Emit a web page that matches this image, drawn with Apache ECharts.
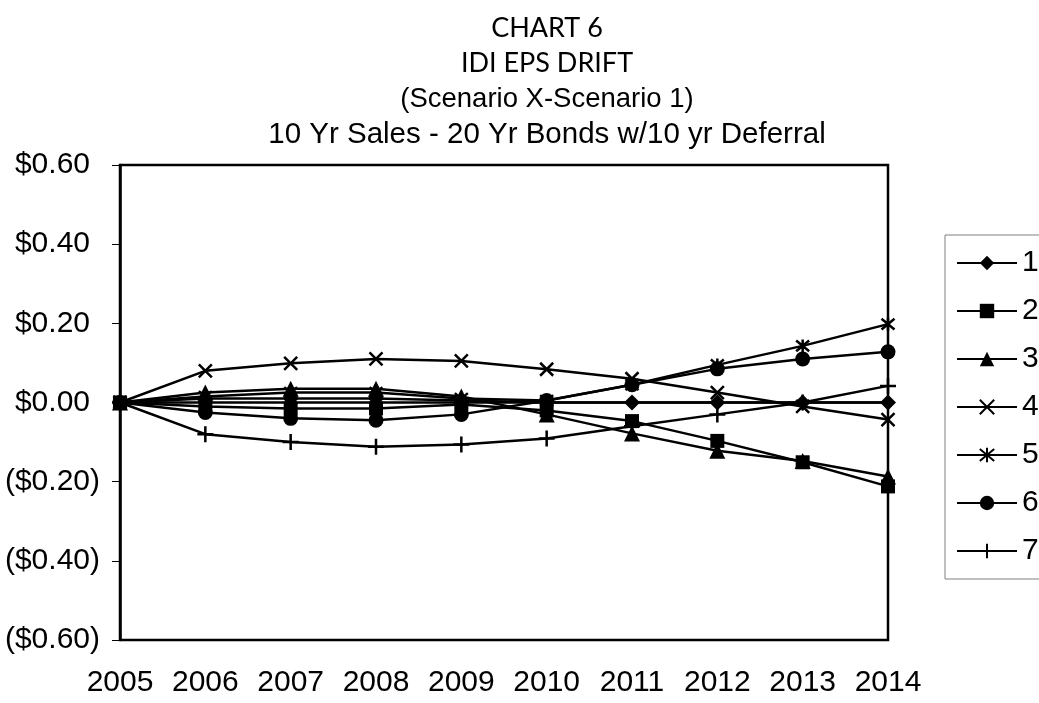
<!DOCTYPE html>
<html>
<head>
<meta charset="utf-8">
<script src="https://cdn.jsdelivr.net/npm/echarts@6/dist/echarts.min.js"></script>
<style>
  html, body { margin: 0; padding: 0; background: #fff; }
  #chart { width: 1039px; height: 703px; }
</style>
</head>
<body>
<div id="chart"></div>
<script>
const YEARS = ['2005', '2006', '2007', '2008', '2009', '2010', '2011', '2012', '2013', '2014']

// EPS drift per scenario (Scenario X - Scenario 1)
const S1 = [0, 0.01, 0.01, 0.01, 0.005, 0, 0, 0, 0, 0]
const S2 = [0, -0.01, -0.015, -0.015, -0.005, -0.02, -0.047, -0.097, -0.151, -0.212]
const S3 = [0, 0.025, 0.035, 0.035, 0.015, -0.03, -0.078, -0.122, -0.148, -0.187]
const S4 = [0, 0.08, 0.099, 0.11, 0.105, 0.084, 0.06, 0.025, -0.01, -0.043]
const S5 = [0, 0.015, 0.025, 0.025, 0.01, 0.005, 0.045, 0.095, 0.143, 0.198]
const S6 = [0, -0.025, -0.04, -0.045, -0.03, 0.005, 0.045, 0.085, 0.11, 0.128]
const S7 = [0, -0.08, -0.1, -0.112, -0.106, -0.091, -0.06, -0.03, 0, 0.042]

const NAMES = ['1', '2', '3', '4', '5', '6', '7']
const TITLE_LINES = ['CHART 6', 'IDI EPS DRIFT', '(Scenario X-Scenario 1)', '10 Yr Sales - 20 Yr Bonds w/10 yr Deferral']

const CROSS = 'path://M0,0L10,10M10,0L0,10'
const STAR = 'path://M0,0L10,10M10,0L0,10M5,-1L5,11'
const PLUS = 'path://M5,0L5,10M0,5L10,5'

const AX_FONT = 'Liberation Sans, Arial, sans-serif'
const FS = 30

function mkSeries(name, data, symbol, size, stroked) {
  return {
    name,
    type: 'line',
    data,
    symbol,
    symbolSize: size,
    showAllSymbol: true,
    lineStyle: { color: '#000', width: 2.5 },
    itemStyle: stroked
      ? { color: 'transparent', borderColor: '#000', borderWidth: 2.5 }
      : { color: '#000', borderWidth: 0 },
    emphasis: { disabled: true },
  }
}

function money(v) {
  const r = Math.round(v * 100) / 100
  if (r < 0) return '{n|($' + (-r).toFixed(2) + ')}'
  return '{p|$' + r.toFixed(2) + '}'
}

const chart = echarts.init(document.getElementById('chart'))
chart.setOption({
  animation: false,
  backgroundColor: '#fff',
  graphic: TITLE_LINES.map((t, i) => ({
    type: 'text',
    x: 547,
    y: [28, 63, 99, 135][i],
    style: {
      text: t,
      align: 'center',
      verticalAlign: 'middle',
      fill: '#000',
      font: [
        '27px Lato, "Open Sans", sans-serif',
        '27px Lato, "Open Sans", sans-serif',
        '27.5px "Liberation Sans", Arial, sans-serif',
        '29.5px "Liberation Sans", Arial, sans-serif',
      ][i],
    },
  })),
  grid: { left: 120, right: 151, top: 165, bottom: 63, show: true, borderColor: '#000', borderWidth: 2.5 },
  legend: {
    orient: 'vertical',
    left: 945,
    top: 235,
    padding: [13, 40, 13, 11],
    itemWidth: 60,
    itemHeight: 18,
    itemGap: 18,
    borderColor: '#808080',
    borderWidth: 1,
    textStyle: { fontSize: FS, fontFamily: AX_FONT, color: '#000' },
    data: NAMES,
  },
  xAxis: {
    type: 'category',
    data: YEARS,
    boundaryGap: false,
    axisLine: { show: true, lineStyle: { color: '#000', width: 2.5 } },
    axisTick: { show: false },
    axisLabel: { color: '#000', fontSize: FS, fontFamily: AX_FONT, margin: 28, interval: 0, hideOverlap: false },
    splitLine: { show: false },
  },
  yAxis: {
    type: 'value',
    min: -0.6,
    max: 0.6,
    interval: 0.2,
    axisLine: { show: true, lineStyle: { color: '#000', width: 2.5 } },
    axisTick: { show: true, length: 8, lineStyle: { color: '#000', width: 1 } },
    splitLine: { show: false },
    axisLabel: {
      color: '#000',
      fontSize: FS,
      fontFamily: AX_FONT,
      margin: 20,
      formatter: money,
      rich: {
        p: { fontSize: FS, fontFamily: AX_FONT, color: '#000', padding: [0, 10, 0, 0] },
        n: { fontSize: FS, fontFamily: AX_FONT, color: '#000' },
      },
    },
  },
  series: [
    mkSeries('1', S1, 'diamond', 16, false),
    mkSeries('2', S2, 'rect', 14, false),
    mkSeries('3', S3, 'triangle', 16, false),
    mkSeries('4', S4, CROSS, 13, true),
    mkSeries('5', S5, STAR, 13, true),
    mkSeries('6', S6, 'circle', 15, false),
    mkSeries('7', S7, PLUS, 16, true),
  ],
})
</script>
</body>
</html>
